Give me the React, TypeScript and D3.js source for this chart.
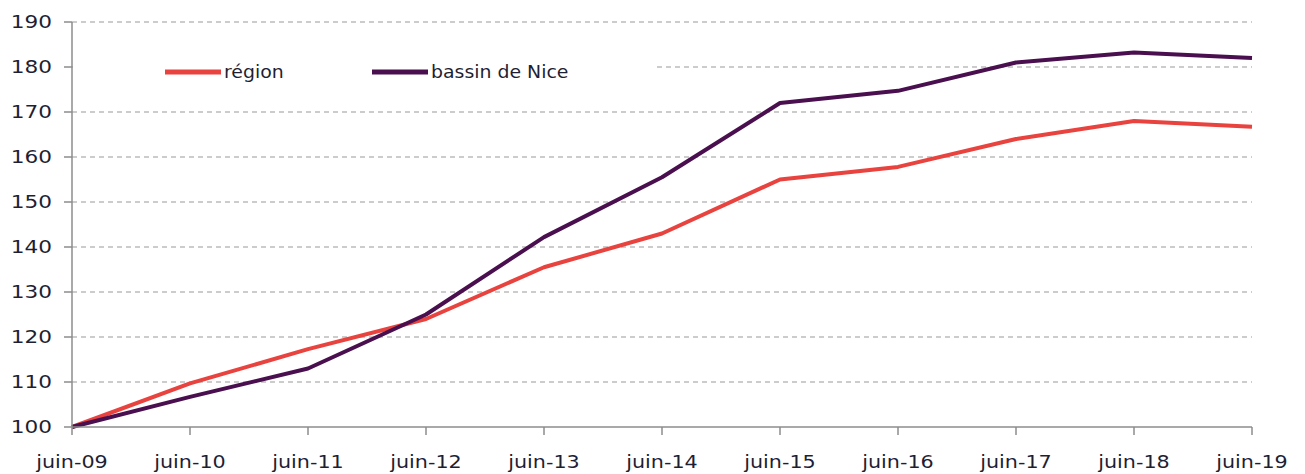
import React from "react";
import * as d3 from "d3";

const categories = ["juin-09","juin-10","juin-11","juin-12","juin-13","juin-14","juin-15","juin-16","juin-17","juin-18","juin-19"];
const regionValues = [100, 109.7, 117.3, 124, 135.5, 143, 155, 157.8, 164, 168, 166.7];
const niceValues = [100, 106.7, 113, 125, 142.2, 155.5, 172, 174.7, 181, 183.2, 182];
const yTicks = [100, 110, 120, 130, 140, 150, 160, 170, 180, 190];
const seriesNames = ["région", "bassin de Nice"];
const seriesColors = ["#E8433E", "#4A0F4E"];

export default function App() {
  const W = 1305, H = 474;
  const left = 72, right = 1252, top = 22, bottom = 427;
  const x = d3.scalePoint<string>().domain(categories).range([left, right]);
  const y = d3.scaleLinear().domain([100, 190]).range([bottom, top]);
  const line = d3.line<number>().x((_, i) => x(categories[i])!).y(d => y(d));
  const font = "'DejaVu Sans', Verdana, sans-serif";
  const textColor = "#1f1f33";
  const series = [regionValues, niceValues];
  return (
    <svg width={W} height={H} style={{ position: "absolute", left: 0, top: 0 }}>
      <rect x={0} y={0} width={W} height={H} fill="#fff" />
      {yTicks.filter(t => t !== 100).map(t => (
        <line key={t} x1={left} x2={right} y1={y(t)} y2={y(t)} stroke="#9a9a9a" strokeWidth={1.2} strokeDasharray="5,4" />
      ))}
      {/* legend box covering gridline */}
      <rect x={left + 1} y={50} width={580} height={42} fill="#fff" />
      {series.map((s, i) => (
        <path key={i} d={line(s)!} fill="none" stroke={seriesColors[i]} strokeWidth={4} strokeLinejoin="round" />
      ))}
      {/* axes */}
      <line x1={left} x2={left} y1={top} y2={bottom} stroke="#8c8c8c" strokeWidth={1.5} />
      <line x1={left} x2={right} y1={bottom} y2={bottom} stroke="#8c8c8c" strokeWidth={1.5} />
      {yTicks.map(t => (
        <g key={t}>
          <line x1={left - 8} x2={left} y1={y(t)} y2={y(t)} stroke="#8c8c8c" strokeWidth={1.5} />
          <text x={52} y={y(t)} dy="0.36em" textAnchor="end" fontFamily={font} fontSize={18} fill={textColor} transform={`translate(52 0) scale(1.2 1) translate(-52 0)`}>{t}</text>
        </g>
      ))}
      {categories.map(c => (
        <g key={c}>
          <line x1={x(c)} x2={x(c)} y1={bottom} y2={bottom + 8} stroke="#8c8c8c" strokeWidth={1.5} />
          <text x={x(c)} y={468} textAnchor="middle" fontFamily={font} fontSize={18} fill={textColor} transform={`translate(${x(c)} 0) scale(1.15 1) translate(${-x(c)!} 0)`}>{c}</text>
        </g>
      ))}
      {/* legend */}
      {seriesNames.map((n, i) => {
        const lx = i === 0 ? 165 : 372;
        return (
          <g key={n}>
            <line x1={lx} x2={lx + 56} y1={72} y2={72} stroke={seriesColors[i]} strokeWidth={5} />
            <text x={lx + 59} y={72} dy="0.36em" fontFamily={font} fontSize={18} fill={textColor} transform={`translate(${lx + 59} 0) scale(1.05 1) translate(${-(lx + 59)} 0)`}>{n}</text>
          </g>
        );
      })}
    </svg>
  );
}
